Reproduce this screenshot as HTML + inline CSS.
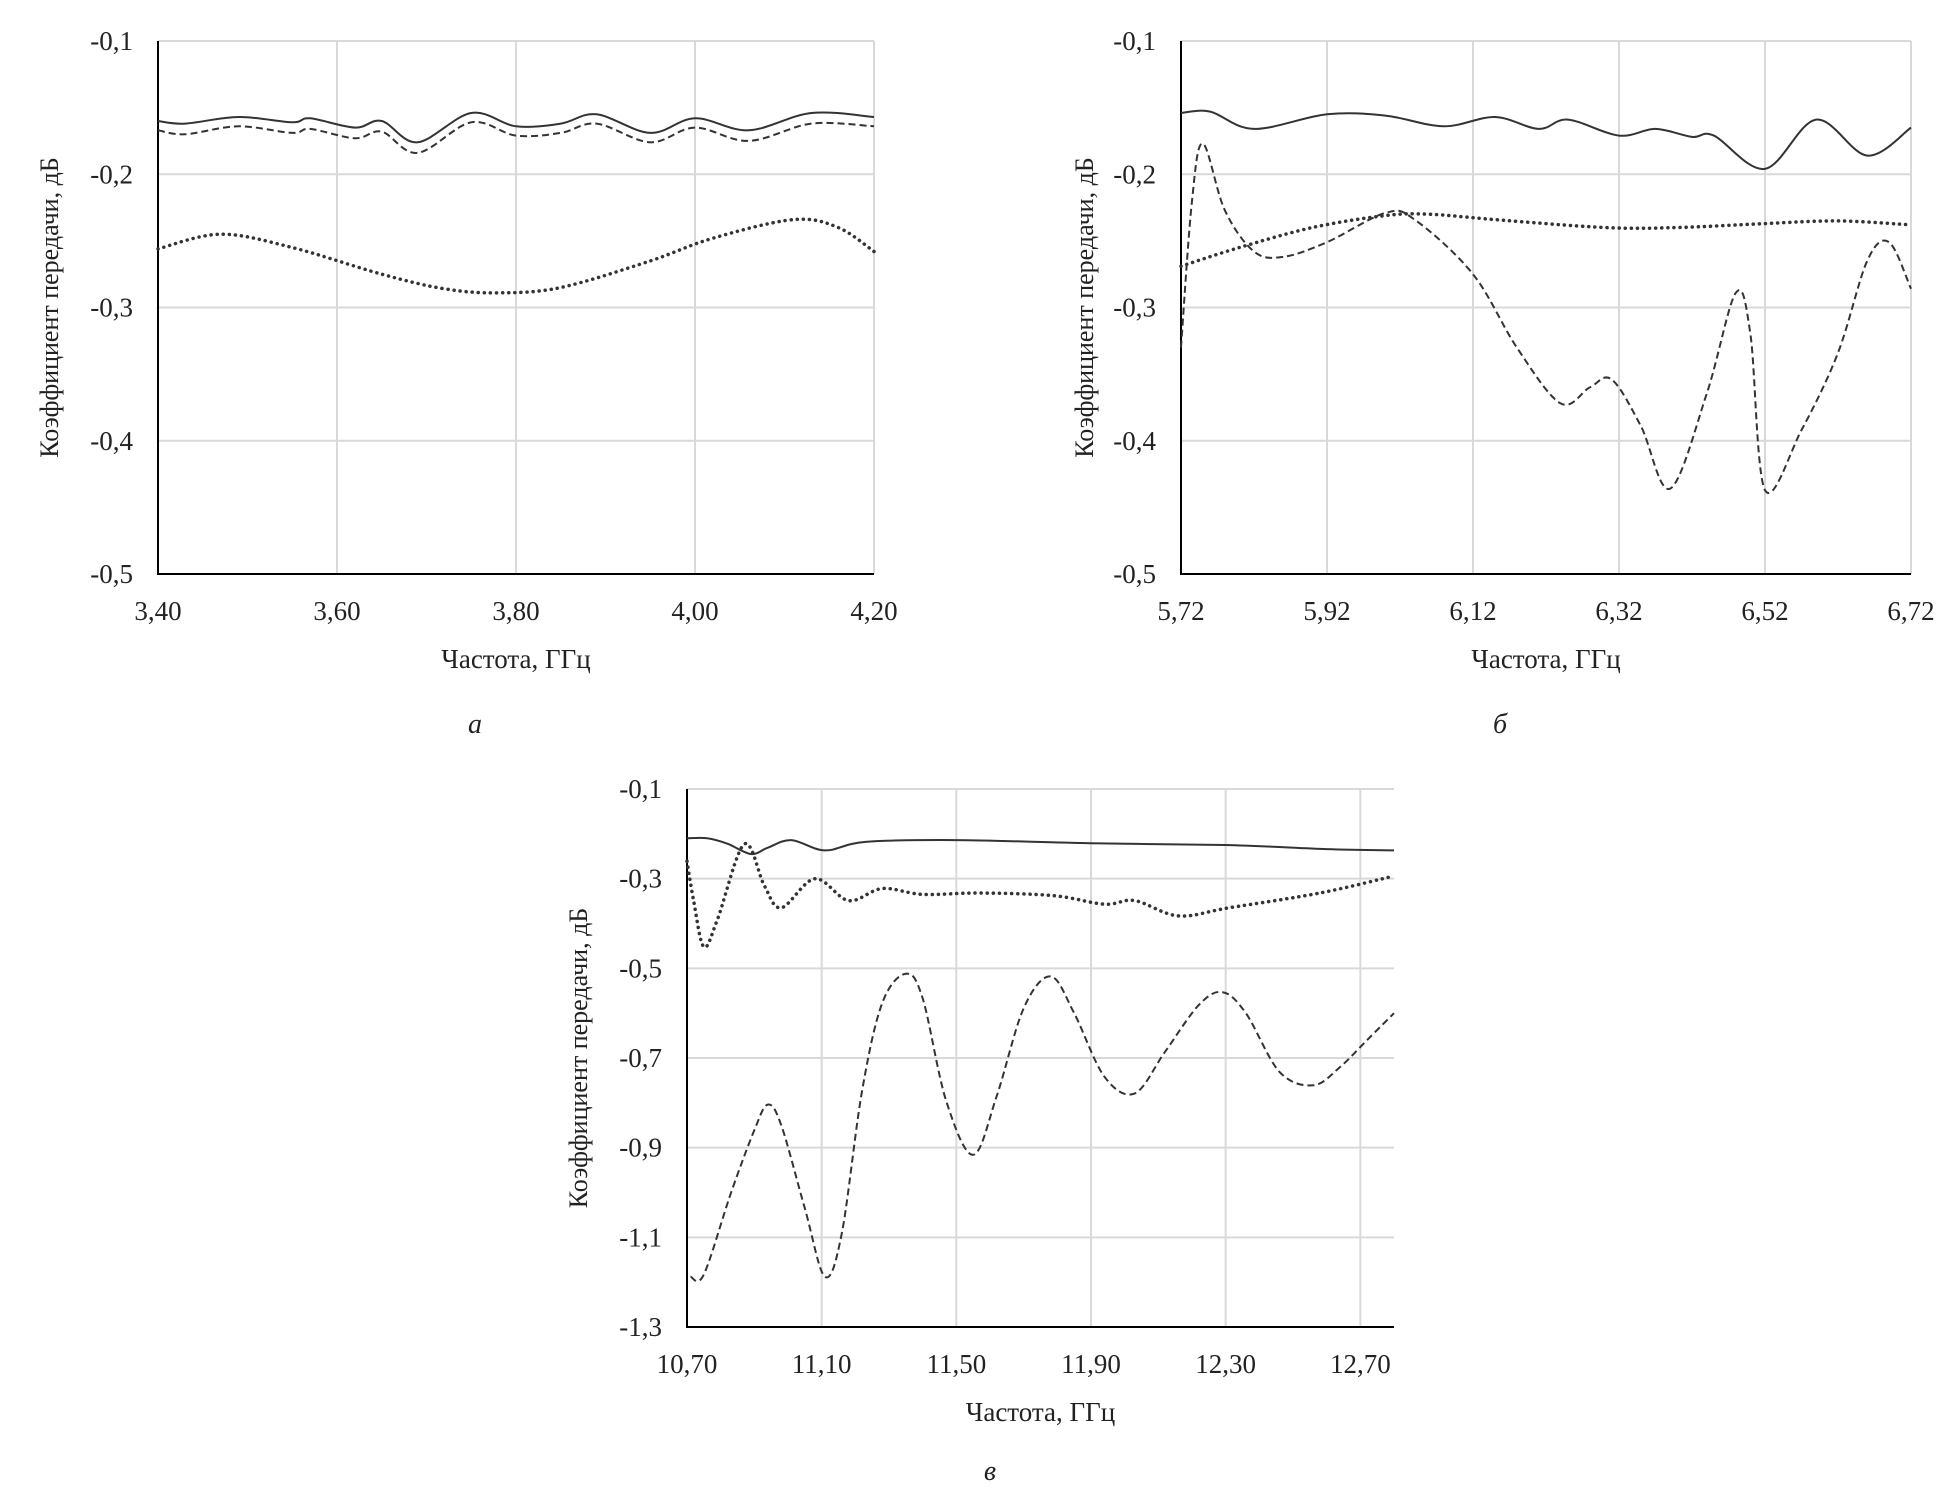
<!DOCTYPE html>
<html><head><meta charset="utf-8"><style>
body{margin:0;background:#fff;}
svg{display:block;font-family:"Liberation Serif","DejaVu Serif",serif;}
</style></head><body>
<svg id="fig" width="1956" height="1504" viewBox="0 0 1956 1504"></svg>
<script>
// Chart A data
const aSolidX=[3.40,3.43,3.49,3.55,3.57,3.62,3.65,3.69,3.75,3.80,3.85,3.89,3.95,4.00,4.06,4.13,4.20];
const aSolidY=[-0.160,-0.162,-0.157,-0.161,-0.158,-0.165,-0.160,-0.176,-0.154,-0.164,-0.162,-0.155,-0.169,-0.158,-0.167,-0.154,-0.157];
const aDashY=[-0.167,-0.170,-0.164,-0.169,-0.166,-0.173,-0.168,-0.184,-0.161,-0.171,-0.169,-0.162,-0.176,-0.165,-0.175,-0.162,-0.164];
const aDotX=[3.40,3.47,3.55,3.65,3.72,3.78,3.85,3.95,4.02,4.11,4.16,4.20];
const aDotY=[-0.256,-0.245,-0.255,-0.275,-0.286,-0.289,-0.285,-0.265,-0.248,-0.234,-0.240,-0.258];
const aXTicks=["3,40","3,60","3,80","4,00","4,20"];
const aYTicks=["-0,1","-0,2","-0,3","-0,4","-0,5"];
// Chart B data
const bSolidX=[5.72,5.76,5.82,5.92,6.00,6.08,6.15,6.21,6.25,6.32,6.37,6.42,6.45,6.52,6.59,6.66,6.72];
const bSolidY=[-0.154,-0.153,-0.166,-0.155,-0.156,-0.164,-0.157,-0.166,-0.159,-0.171,-0.166,-0.172,-0.171,-0.196,-0.159,-0.186,-0.165];
const bDashX=[5.72,5.735,5.75,5.78,5.82,5.86,5.92,6.00,6.04,6.12,6.18,6.24,6.28,6.31,6.35,6.39,6.44,6.48,6.50,6.52,6.57,6.62,6.66,6.69,6.72];
const bDashY=[-0.33,-0.22,-0.177,-0.227,-0.258,-0.262,-0.251,-0.229,-0.234,-0.275,-0.33,-0.372,-0.36,-0.354,-0.389,-0.436,-0.365,-0.289,-0.32,-0.437,-0.392,-0.334,-0.265,-0.251,-0.286];
const bDotX=[5.72,5.80,5.90,6.00,6.06,6.15,6.30,6.40,6.52,6.62,6.72];
const bDotY=[-0.269,-0.255,-0.240,-0.231,-0.230,-0.234,-0.240,-0.240,-0.237,-0.235,-0.238];
const bXTicks=["5,72","5,92","6,12","6,32","6,52","6,72"];
// Chart C data
const cSolidX=[10.70,10.76,10.82,10.89,10.94,11.01,11.11,11.23,11.50,11.90,12.30,12.60,12.80];
const cSolidY=[-0.210,-0.210,-0.222,-0.245,-0.231,-0.214,-0.237,-0.218,-0.214,-0.221,-0.225,-0.234,-0.237];
const cDotX=[10.70,10.72,10.75,10.79,10.87,10.93,10.98,11.08,11.18,11.28,11.40,11.57,11.79,11.94,12.03,12.16,12.31,12.58,12.80];
const cDotY=[-0.261,-0.35,-0.452,-0.392,-0.223,-0.316,-0.365,-0.30,-0.349,-0.322,-0.335,-0.332,-0.338,-0.357,-0.349,-0.383,-0.365,-0.332,-0.294];
const cDashX=[10.71,10.75,10.83,10.90,10.94,10.98,11.05,11.11,11.16,11.22,11.28,11.35,11.40,11.47,11.55,11.62,11.70,11.78,11.85,11.94,12.03,12.12,12.22,12.29,12.36,12.46,12.56,12.64,12.72,12.80];
const cDashY=[-1.188,-1.183,-1.002,-0.861,-0.804,-0.85,-1.035,-1.188,-1.09,-0.773,-0.577,-0.512,-0.567,-0.796,-0.916,-0.785,-0.589,-0.518,-0.60,-0.742,-0.779,-0.686,-0.582,-0.553,-0.60,-0.731,-0.761,-0.72,-0.66,-0.60];
const cXTicks=["10,70","11,10","11,50","11,90","12,30","12,70"];
const cYTicks=["-0,1","-0,3","-0,5","-0,7","-0,9","-1,1","-1,3"];

const NS="http://www.w3.org/2000/svg";
const svg=document.getElementById('fig');
function mk(tag,attrs,parent){const e=document.createElementNS(NS,tag);for(const k in attrs)e.setAttribute(k,attrs[k]);(parent||svg).appendChild(e);return e;}
function smooth(pts){let d="M"+pts[0][0].toFixed(1)+","+pts[0][1].toFixed(1);
 for(let i=0;i<pts.length-1;i++){const p0=pts[i-1]||pts[i],p1=pts[i],p2=pts[i+1],p3=pts[i+2]||p2;
  const c1=[p1[0]+(p2[0]-p0[0])/6,p1[1]+(p2[1]-p0[1])/6],c2=[p2[0]-(p3[0]-p1[0])/6,p2[1]-(p3[1]-p1[1])/6];
  d+=" C"+c1[0].toFixed(1)+","+c1[1].toFixed(1)+" "+c2[0].toFixed(1)+","+c2[1].toFixed(1)+" "+p2[0].toFixed(1)+","+p2[1].toFixed(1);}
 return d;}
function chart(c){
 const g=mk('g',{});
 
 
 const sx=v=>c.L+(v-c.x0)/(c.x1-c.x0)*(c.R-c.L);
 const sy=v=>c.T+(c.y0-v)/(c.y0-c.y1)*(c.B-c.T);
 c.yTicks.forEach((t,i)=>{const v=c.y0-i*c.ystep;const y=sy(v);
  const gl=mk('line',{x1:c.L,x2:c.R,y1:y,y2:y,stroke:'#d9d9d9','stroke-width':2},g);
  
  const tx=mk('text',{x:c.L-25,y:y+9,'text-anchor':'end','font-size':27,fill:'#222'},g);tx.textContent=t;
  });
 c.xTicks.forEach((t,i)=>{const v=c.x0+i*c.xstep;const x=sx(v);
  if(i>0){const gl=mk('line',{x1:x,x2:x,y1:c.T,y2:c.B,stroke:'#d9d9d9','stroke-width':2},g);
   }
  const tx=mk('text',{x:x,y:c.B+46,'text-anchor':'middle','font-size':27,fill:'#222'},g);tx.textContent=t;
  });
 const ax=mk('path',{d:`M${c.L},${c.T} V${c.B} H${c.R}`,fill:'none',stroke:'#000','stroke-width':2},g);
 
 c.series.forEach(s=>{const pts=s.x.map((v,i)=>[sx(v),sy(s.y[i])]);
  const p=mk('path',{d:smooth(pts),fill:'none',stroke:'#333','stroke-width':s.w,'stroke-dasharray':s.dash||'none','stroke-linecap':s.cap||'butt'},g);
  });
 const xt=mk('text',{x:(c.L+c.R)/2,y:c.B+94,'text-anchor':'middle','font-size':27,fill:'#222'},g);xt.textContent='Частота, ГГц';
 
 const yx=c.ytx,yy=(c.T+c.B)/2;
 const yt=mk('text',{x:yx,y:yy,'text-anchor':'middle','font-size':26,fill:'#222',transform:`rotate(-90 ${yx} ${yy})`},g);yt.textContent='Коэффициент передачи, дБ';
 
 const lt=mk('text',{x:c.lx,y:c.ly,'text-anchor':'middle','font-size':28,'font-style':'italic',fill:'#222'},g);lt.textContent=c.letter;
 
}
chart({name:'chart-a',L:158,R:874,T:41,B:574,x0:3.40,x1:4.20,xstep:0.2,y0:-0.1,y1:-0.5,ystep:0.1,xTicks:aXTicks,yTicks:aYTicks,ytx:58,lx:475,ly:733,letter:'а',
 series:[{name:'series-solid',x:aSolidX,y:aSolidY,w:2},{name:'series-dashed',x:aSolidX,y:aDashY,w:2,dash:'7,4'},{name:'series-dotted',x:aDotX,y:aDotY,w:3.5,dash:'0.1,6',cap:'round'}]});
chart({name:'chart-b',L:1181,R:1911,T:41,B:574,x0:5.72,x1:6.72,xstep:0.2,y0:-0.1,y1:-0.5,ystep:0.1,xTicks:bXTicks,yTicks:aYTicks,ytx:1093,lx:1500,ly:733,letter:'б',
 series:[{name:'series-solid',x:bSolidX,y:bSolidY,w:2},{name:'series-dashed',x:bDashX,y:bDashY,w:2,dash:'7,4'},{name:'series-dotted',x:bDotX,y:bDotY,w:3.5,dash:'0.1,6',cap:'round'}]});
chart({name:'chart-c',L:687,R:1394,T:789,B:1327,x0:10.70,x1:12.80,xstep:0.4,y0:-0.1,y1:-1.3,ystep:0.2,xTicks:cXTicks,yTicks:cYTicks,ytx:587,lx:990,ly:1480,letter:'в',
 series:[{name:'series-solid',x:cSolidX,y:cSolidY,w:2},{name:'series-dashed',x:cDashX,y:cDashY,w:2,dash:'7,4'},{name:'series-dotted',x:cDotX,y:cDotY,w:3.5,dash:'0.1,6',cap:'round'}]});
</script>
</body></html>
